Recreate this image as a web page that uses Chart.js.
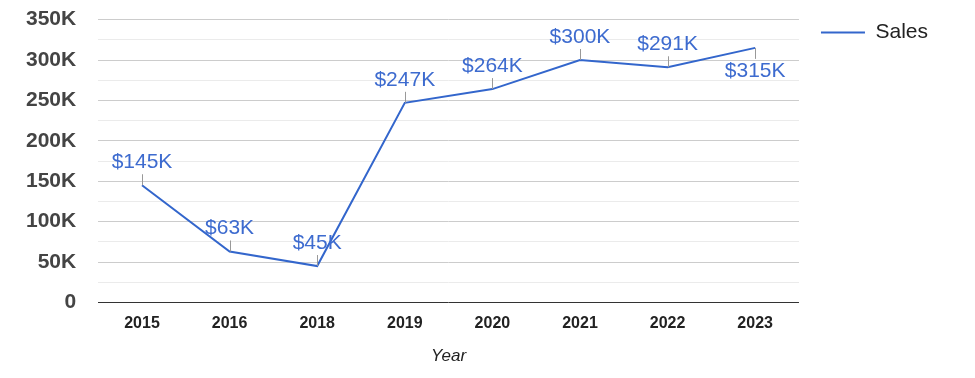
<!DOCTYPE html>
<html>
<head>
<meta charset="utf-8">
<script src="https://cdn.jsdelivr.net/npm/chart.js@4.4.0/dist/chart.umd.min.js"></script>
<style>
  html, body { margin: 0; padding: 0; background: #fff; }
  #wrap { width: 975px; height: 378px; }
</style>
</head>
<body>
<div id="wrap"><canvas id="myLineChart"></canvas></div>
<script>
var years = ['2015', '2016', '2018', '2019', '2020', '2021', '2022', '2023'];
var sales = [145000, 63000, 45000, 247000, 264000, 300000, 291000, 315000];
var seriesName = 'Sales';
var axisTitle = 'Year';

// nhãn giá trị với đường chỉ dẫn nhỏ
var valueLabels = {
    id: 'valueLabels',
    afterDatasetsDraw: function (chart, args, opts) {
        var ctx = chart.ctx;
        var meta = chart.getDatasetMeta(0);
        var ds = chart.data.datasets[0];
        ctx.save();
        ctx.font = '21px "Liberation Sans", Arial, sans-serif';
        ctx.textAlign = 'center';
        ctx.textBaseline = 'middle';
        meta.data.forEach(function (pt, i) {
            var below = opts.below.indexOf(i) !== -1;
            var dir = below ? 1 : -1;
            ctx.strokeStyle = '#999';
            ctx.lineWidth = 1;
            ctx.beginPath();
            ctx.moveTo(Math.round(pt.x) + 0.5, pt.y);
            ctx.lineTo(Math.round(pt.x) + 0.5, pt.y + dir * 11);
            ctx.stroke();
            ctx.fillStyle = '#3d6bcf';
            ctx.fillText('$' + Math.round(ds.data[i] / 1000) + 'K', pt.x, pt.y + dir * 23);
        });
        ctx.restore();
    }
};

var ctx = document.getElementById('myLineChart').getContext('2d');
var _myChart = new Chart(ctx, {
    type: 'line',
    data: {
        labels: years,
        datasets: [{
            label: seriesName,
            data: sales,
            borderColor: '#3366cc',
            backgroundColor: '#3366cc',
            borderWidth: 2,
            pointRadius: 0,
            tension: 0,
        }]
    },
    options: {
        responsive: true,
        maintainAspectRatio: false,
        animation: false,
        layout: { padding: { top: 0, right: 37, bottom: 12, left: 19 } },
        plugins: {
            legend: {
                position: 'right',
                align: 'start',
                labels: {
                    usePointStyle: true,
                    pointStyle: 'line',
                    pointStyleWidth: 44,
                    boxWidth: 44,
                    padding: 22,
                    color: '#222',
                    font: { family: '"Liberation Sans", Arial, sans-serif', size: 21 },
                },
            },
            tooltip: { enabled: false },
            valueLabels: { below: [7] },
        },
        scales: {
            x: {
                offset: true,
                grid: { display: false },
                border: { display: false },
                ticks: {
                    color: '#222',
                    padding: 4,
                    font: { family: '"Liberation Sans", Arial, sans-serif', size: 16, weight: 'bold' },
                },
                title: {
                    display: true,
                    text: axisTitle,
                    color: '#222',
                    padding: { top: 8, bottom: 0 },
                    font: { family: '"Liberation Sans", Arial, sans-serif', size: 17, style: 'italic' },
                },
            },
            y: {
                min: 0,
                max: 350000,
                border: { display: false },
                grid: {
                    drawTicks: true,
                    tickLength: 15,
                    tickColor: 'rgba(0,0,0,0)',
                    color: function (c) {
                        var v = c.tick.value;
                        if (v === 0) return '#333';
                        return v % 50000 === 0 ? '#ccc' : '#ebebeb';
                    },
                },
                ticks: {
                    stepSize: 25000,
                    autoSkip: false,
                    padding: 7,
                    color: '#444',
                    font: { family: '"Liberation Sans", Arial, sans-serif', size: 21, weight: 'bold' },
                    callback: function (v) {
                        if (v % 50000 !== 0) return '';
                        return v === 0 ? '0' : (v / 1000) + 'K';
                    },
                },
            },
        },
    },
    plugins: [valueLabels],
});
</script>
</body>
</html>
